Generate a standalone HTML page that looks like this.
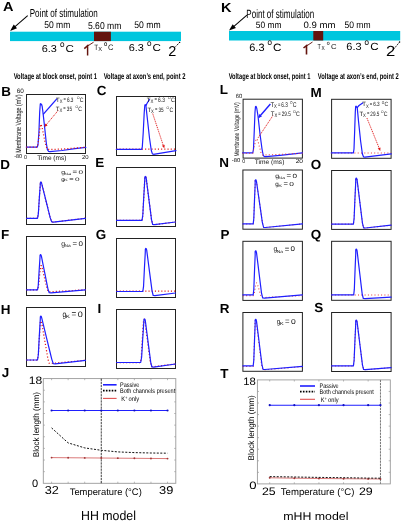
<!DOCTYPE html>
<html><head><meta charset="utf-8"><style>
html,body{margin:0;padding:0;background:#fff;}
svg{display:block;will-change:transform;}
text{font-family:"Liberation Sans", sans-serif;text-rendering:geometricPrecision;}
</style></head><body>
<svg width="401" height="522" viewBox="0 0 401 522">
<rect width="401" height="522" fill="#fff"/>
<text x="3.05" y="11.20" style="font-size:13.20px;font-weight:bold;" fill="#000" textLength="10.49" lengthAdjust="spacingAndGlyphs" >A</text>
<text x="29.74" y="16.80" style="font-size:11.59px;" fill="#000" textLength="68.07" lengthAdjust="spacingAndGlyphs" >Point of stimulation</text>
<line x1="27.70" y1="15.60" x2="13.87" y2="27.62" stroke="#000" stroke-width="1.05" />
<polygon points="10.10,30.90 13.74,24.42 17.02,28.19" fill="#000"/>
<text x="44.26" y="28.40" style="font-size:9.74px;" fill="#000" textLength="26.10" lengthAdjust="spacingAndGlyphs" >50 mm</text>
<text x="87.96" y="28.80" style="font-size:9.89px;" fill="#000" textLength="33.40" lengthAdjust="spacingAndGlyphs" >5.60 mm</text>
<text x="134.26" y="28.10" style="font-size:9.60px;" fill="#000" textLength="26.31" lengthAdjust="spacingAndGlyphs" >50 mm</text>
<rect x="10.00" y="31.70" width="171.00" height="9.40" fill="#00c6de" stroke="none" stroke-width="1"/>
<rect x="94.00" y="31.70" width="16.90" height="9.40" fill="#64140e" stroke="none" stroke-width="1"/>
<text x="41.75" y="51.50" style="font-size:10.03px;" fill="#000" textLength="15.22" lengthAdjust="spacingAndGlyphs" >6.3</text>
<text x="59.96" y="46.60" style="font-size:6.73px;font-weight:bold;" fill="#222" textLength="4.48" lengthAdjust="spacingAndGlyphs" >O</text>
<text x="65.62" y="51.50" style="font-size:10.03px;" fill="#000" textLength="8.42" lengthAdjust="spacingAndGlyphs" >C</text>
<text x="128.75" y="51.30" style="font-size:10.03px;" fill="#000" textLength="15.22" lengthAdjust="spacingAndGlyphs" >6.3</text>
<text x="146.96" y="46.40" style="font-size:6.73px;font-weight:bold;" fill="#222" textLength="4.48" lengthAdjust="spacingAndGlyphs" >O</text>
<text x="152.62" y="51.30" style="font-size:10.03px;" fill="#000" textLength="8.42" lengthAdjust="spacingAndGlyphs" >C</text>
<path d="M84.30,48.60 L87.60,45.60 L87.60,55.40" fill="none" stroke="#64140e" stroke-width="1.45" stroke-linejoin="miter"/>
<line x1="87.80" y1="45.90" x2="93.60" y2="42.20" stroke="#64140e" stroke-width="0.95" />
<text x="94.26" y="49.60" style="font-size:7.70px;" fill="#111" textLength="3.89" lengthAdjust="spacingAndGlyphs" >T</text>
<text x="98.17" y="51.30" style="font-size:5.96px;" fill="#111" textLength="3.85" lengthAdjust="spacingAndGlyphs" >X</text>
<text x="103.93" y="46.20" style="font-size:5.30px;font-weight:bold;" fill="#111" textLength="3.25" lengthAdjust="spacingAndGlyphs" >O</text>
<text x="108.12" y="49.80" style="font-size:7.88px;" fill="#111" textLength="5.46" lengthAdjust="spacingAndGlyphs" >C</text>
<text x="168.38" y="55.60" style="font-size:14.33px;" fill="#000" textLength="8.05" lengthAdjust="spacingAndGlyphs" >2</text>
<line x1="175.60" y1="46.60" x2="179.60" y2="42.40" stroke="#000" stroke-width="0.9" stroke-dasharray="1.4 0.8"/>
<circle cx="179.60" cy="42.40" r="0.7" fill="#000"/>
<text x="221.04" y="12.00" style="font-size:13.20px;font-weight:bold;" fill="#000" textLength="10.49" lengthAdjust="spacingAndGlyphs" >K</text>
<text x="246.34" y="17.90" style="font-size:12.00px;" fill="#000" textLength="67.77" lengthAdjust="spacingAndGlyphs" >Point of stimulation</text>
<line x1="246.90" y1="15.20" x2="232.79" y2="27.34" stroke="#000" stroke-width="1.05" />
<polygon points="229.00,30.60 232.68,24.14 235.94,27.93" fill="#000"/>
<text x="255.86" y="28.10" style="font-size:9.17px;" fill="#000" textLength="25.79" lengthAdjust="spacingAndGlyphs" >50 mm</text>
<text x="303.43" y="28.30" style="font-size:9.17px;" fill="#000" textLength="32.00" lengthAdjust="spacingAndGlyphs" >0.9 mm</text>
<text x="344.46" y="28.30" style="font-size:9.46px;" fill="#000" textLength="26.10" lengthAdjust="spacingAndGlyphs" >50 mm</text>
<rect x="229.00" y="31.00" width="171.20" height="9.50" fill="#00c6de" stroke="none" stroke-width="1"/>
<rect x="313.30" y="31.00" width="9.90" height="9.50" fill="#64140e" stroke="none" stroke-width="1"/>
<text x="249.25" y="50.50" style="font-size:10.60px;" fill="#000" textLength="15.22" lengthAdjust="spacingAndGlyphs" >6.3</text>
<text x="267.46" y="45.20" style="font-size:6.73px;font-weight:bold;" fill="#222" textLength="4.48" lengthAdjust="spacingAndGlyphs" >O</text>
<text x="273.12" y="50.50" style="font-size:10.60px;" fill="#000" textLength="8.42" lengthAdjust="spacingAndGlyphs" >C</text>
<text x="346.35" y="50.40" style="font-size:10.32px;" fill="#000" textLength="15.22" lengthAdjust="spacingAndGlyphs" >6.3</text>
<text x="364.56" y="45.30" style="font-size:6.73px;font-weight:bold;" fill="#222" textLength="4.48" lengthAdjust="spacingAndGlyphs" >O</text>
<text x="370.22" y="50.40" style="font-size:10.32px;" fill="#000" textLength="8.42" lengthAdjust="spacingAndGlyphs" >C</text>
<path d="M303.50,48.00 L306.50,45.60 L306.50,54.60" fill="none" stroke="#64140e" stroke-width="1.6" stroke-linejoin="miter"/>
<line x1="306.70" y1="45.90" x2="312.50" y2="42.00" stroke="#64140e" stroke-width="0.95" />
<text x="317.38" y="48.60" style="font-size:7.27px;" fill="#111" textLength="3.35" lengthAdjust="spacingAndGlyphs" >T</text>
<text x="321.39" y="50.30" style="font-size:5.96px;" fill="#111" textLength="3.21" lengthAdjust="spacingAndGlyphs" >X</text>
<text x="326.85" y="45.40" style="font-size:4.73px;font-weight:bold;" fill="#111" textLength="2.91" lengthAdjust="spacingAndGlyphs" >O</text>
<text x="331.11" y="49.00" style="font-size:7.16px;" fill="#111" textLength="5.57" lengthAdjust="spacingAndGlyphs" >C</text>
<text x="386.07" y="55.60" style="font-size:14.61px;" fill="#000" textLength="9.27" lengthAdjust="spacingAndGlyphs" >2</text>
<line x1="394.20" y1="48.60" x2="399.60" y2="42.00" stroke="#000" stroke-width="0.9" stroke-dasharray="1.4 0.8"/>
<circle cx="399.60" cy="42.00" r="0.7" fill="#000"/>
<text x="13.67" y="79.00" style="font-size:8.41px;font-weight:bold;" fill="#000" textLength="83.29" lengthAdjust="spacingAndGlyphs" >Voltage at block onset, point 1</text>
<text x="103.66" y="79.00" style="font-size:8.41px;font-weight:bold;" fill="#000" textLength="81.86" lengthAdjust="spacingAndGlyphs" >Voltage at axon’s end, point 2</text>
<text x="228.67" y="79.00" style="font-size:8.41px;font-weight:bold;" fill="#000" textLength="81.79" lengthAdjust="spacingAndGlyphs" >Voltage at block onset, point 1</text>
<text x="317.87" y="79.00" style="font-size:8.41px;font-weight:bold;" fill="#000" textLength="80.86" lengthAdjust="spacingAndGlyphs" >Voltage at axon’s end, point 2</text>
<text x="1.31" y="95.50" style="font-size:13.20px;font-weight:bold;" fill="#000" textLength="9.72" lengthAdjust="spacingAndGlyphs" >B</text>
<text x="96.65" y="95.40" style="font-size:13.20px;font-weight:bold;" fill="#000" textLength="9.72" lengthAdjust="spacingAndGlyphs" >C</text>
<text x="0.21" y="169.00" style="font-size:13.20px;font-weight:bold;" fill="#000" textLength="9.72" lengthAdjust="spacingAndGlyphs" >D</text>
<text x="95.31" y="167.00" style="font-size:13.20px;font-weight:bold;" fill="#000" textLength="8.98" lengthAdjust="spacingAndGlyphs" >E</text>
<text x="1.01" y="239.20" style="font-size:13.20px;font-weight:bold;" fill="#000" textLength="8.22" lengthAdjust="spacingAndGlyphs" >F</text>
<text x="95.65" y="239.40" style="font-size:13.20px;font-weight:bold;" fill="#000" textLength="10.47" lengthAdjust="spacingAndGlyphs" >G</text>
<text x="0.71" y="313.80" style="font-size:13.20px;font-weight:bold;" fill="#000" textLength="9.72" lengthAdjust="spacingAndGlyphs" >H</text>
<text x="97.41" y="313.20" style="font-size:13.20px;font-weight:bold;" fill="#000" textLength="3.74" lengthAdjust="spacingAndGlyphs" >I</text>
<text x="1.80" y="377.20" style="font-size:13.20px;font-weight:bold;" fill="#000" textLength="7.49" lengthAdjust="spacingAndGlyphs" >J</text>
<text x="219.81" y="94.40" style="font-size:13.20px;font-weight:bold;" fill="#000" textLength="8.22" lengthAdjust="spacingAndGlyphs" >L</text>
<text x="310.51" y="97.40" style="font-size:13.20px;font-weight:bold;" fill="#000" textLength="11.22" lengthAdjust="spacingAndGlyphs" >M</text>
<text x="219.31" y="167.20" style="font-size:13.20px;font-weight:bold;" fill="#000" textLength="9.72" lengthAdjust="spacingAndGlyphs" >N</text>
<text x="310.65" y="169.20" style="font-size:13.20px;font-weight:bold;" fill="#000" textLength="10.47" lengthAdjust="spacingAndGlyphs" >O</text>
<text x="220.51" y="238.60" style="font-size:13.20px;font-weight:bold;" fill="#000" textLength="8.98" lengthAdjust="spacingAndGlyphs" >P</text>
<text x="310.85" y="239.40" style="font-size:13.20px;font-weight:bold;" fill="#000" textLength="10.47" lengthAdjust="spacingAndGlyphs" >Q</text>
<text x="219.81" y="313.10" style="font-size:13.20px;font-weight:bold;" fill="#000" textLength="9.72" lengthAdjust="spacingAndGlyphs" >R</text>
<text x="314.32" y="312.40" style="font-size:13.20px;font-weight:bold;" fill="#000" textLength="8.98" lengthAdjust="spacingAndGlyphs" >S</text>
<text x="220.35" y="377.80" style="font-size:13.20px;font-weight:bold;" fill="#000" textLength="8.22" lengthAdjust="spacingAndGlyphs" >T</text>
<rect x="26.50" y="94.50" width="59.00" height="59.00" fill="#fff" stroke="#222" stroke-width="1.0"/>
<rect x="116.50" y="96.50" width="59.00" height="59.00" fill="#fff" stroke="#222" stroke-width="1.0"/>
<rect x="26.50" y="165.50" width="59.00" height="59.00" fill="#fff" stroke="#222" stroke-width="1.0"/>
<rect x="116.50" y="167.50" width="59.00" height="59.00" fill="#fff" stroke="#222" stroke-width="1.0"/>
<rect x="26.50" y="236.50" width="59.00" height="59.00" fill="#fff" stroke="#222" stroke-width="1.0"/>
<rect x="116.50" y="238.50" width="59.00" height="59.00" fill="#fff" stroke="#222" stroke-width="1.0"/>
<rect x="26.50" y="307.50" width="59.00" height="59.00" fill="#fff" stroke="#222" stroke-width="1.0"/>
<rect x="116.50" y="309.50" width="59.00" height="59.00" fill="#fff" stroke="#222" stroke-width="1.0"/>
<rect x="243.10" y="99.20" width="59.30" height="58.90" fill="#fff" stroke="#222" stroke-width="1.0"/>
<rect x="331.60" y="99.30" width="59.50" height="59.00" fill="#fff" stroke="#222" stroke-width="1.0"/>
<rect x="242.90" y="170.00" width="59.50" height="59.20" fill="#fff" stroke="#222" stroke-width="1.0"/>
<rect x="331.60" y="170.50" width="59.50" height="58.90" fill="#fff" stroke="#222" stroke-width="1.0"/>
<rect x="242.90" y="241.30" width="59.50" height="59.10" fill="#fff" stroke="#222" stroke-width="1.0"/>
<rect x="331.60" y="241.30" width="59.50" height="59.00" fill="#fff" stroke="#222" stroke-width="1.0"/>
<rect x="242.90" y="312.50" width="59.50" height="58.80" fill="#fff" stroke="#222" stroke-width="1.0"/>
<rect x="331.60" y="312.50" width="59.50" height="59.00" fill="#fff" stroke="#222" stroke-width="1.0"/>
<polyline points="26.50,218.30 37.50,218.30 38.33,213.94 39.31,198.34 40.21,185.63 40.35,182.80 40.80,182.00 41.30,182.30 41.70,183.63 44.02,192.94 46.35,202.26 48.67,211.58 50.26,217.92 51.70,221.90 53.50,222.10 85.50,218.30" fill="none" stroke="#e01515" stroke-width="1.25" stroke-linejoin="round" stroke-linecap="butt" stroke-dasharray="1.1 2.1"/>
<polyline points="26.50,218.30 37.50,218.30 38.33,213.94 39.31,198.34 40.21,185.63 40.35,182.80 40.80,182.00 41.30,182.30 41.70,183.63 44.02,192.94 46.35,202.26 48.67,211.58 50.26,217.92 51.70,221.90 53.50,222.10 85.50,218.30" fill="none" stroke="#1f1fff" stroke-width="1.2" stroke-linejoin="round" stroke-linecap="round" />
<polyline points="116.50,220.30 142.00,220.30 142.82,215.03 143.81,196.16 144.71,180.79 144.85,177.20 145.30,176.40 145.80,176.70 146.20,178.18 147.65,189.51 149.10,200.84 150.55,212.17 151.54,219.87 152.70,224.50 154.50,224.70 175.50,222.00" fill="none" stroke="#e01515" stroke-width="1.25" stroke-linejoin="round" stroke-linecap="butt" stroke-dasharray="1.1 2.1"/>
<polyline points="116.50,220.30 142.00,220.30 142.82,215.03 143.81,196.16 144.71,180.79 144.85,177.20 145.30,176.40 145.80,176.70 146.20,178.18 147.65,189.51 149.10,200.84 150.55,212.17 151.54,219.87 152.70,224.50 154.50,224.70 175.50,222.00" fill="none" stroke="#1f1fff" stroke-width="1.2" stroke-linejoin="round" stroke-linecap="round" />
<polyline points="26.50,289.80 37.60,289.80 38.45,286.90 39.47,276.49 40.39,268.02 40.55,266.40 41.00,265.60 41.50,265.90 41.90,266.98 43.30,272.89 44.70,278.79 46.10,284.70 47.05,288.71 48.20,291.60 50.00,291.80 85.50,289.80" fill="none" stroke="#e01515" stroke-width="1.25" stroke-linejoin="round" stroke-linecap="butt" stroke-dasharray="1.1 2.1"/>
<polyline points="26.50,289.80 37.50,289.80 38.25,285.58 39.15,270.44 39.96,258.12 40.05,255.40 40.50,254.60 41.00,254.90 41.40,256.20 43.17,265.08 44.95,273.95 46.72,282.83 47.93,288.86 49.20,292.70 51.00,292.90 85.50,289.80" fill="none" stroke="#1f1fff" stroke-width="1.2" stroke-linejoin="round" stroke-linecap="round" />
<polyline points="116.50,291.00 175.50,291.00" fill="none" stroke="#e01515" stroke-width="1.25" stroke-linejoin="round" stroke-linecap="butt" stroke-dasharray="1.1 2.1"/>
<polyline points="116.50,291.50 142.80,291.50 143.55,286.33 144.45,267.80 145.26,252.71 145.35,249.20 145.80,248.40 146.30,248.70 146.70,250.16 148.15,261.25 149.60,272.33 151.05,283.42 152.04,290.95 153.20,295.50 155.00,295.70 175.50,293.00" fill="none" stroke="#1f1fff" stroke-width="1.2" stroke-linejoin="round" stroke-linecap="round" />
<polyline points="26.50,360.00 37.50,360.00 38.33,355.33 39.31,338.61 40.21,324.99 40.35,321.90 40.80,321.10 41.30,321.40 41.70,322.78 43.40,332.66 45.10,342.54 46.80,352.42 47.96,359.14 49.20,363.30 51.00,363.50 85.50,360.30" fill="none" stroke="#e01515" stroke-width="1.25" stroke-linejoin="round" stroke-linecap="butt" stroke-dasharray="1.1 2.1"/>
<polyline points="26.50,360.00 37.50,360.00 38.33,354.73 39.31,335.86 40.21,320.49 40.35,316.90 40.80,316.10 41.30,316.40 41.70,317.88 44.42,329.08 47.15,340.29 49.88,351.49 51.73,359.11 53.30,363.70 55.10,363.90 85.50,360.30" fill="none" stroke="#1f1fff" stroke-width="1.2" stroke-linejoin="round" stroke-linecap="round" />
<polyline points="116.50,362.50 140.40,362.50 141.30,357.33 142.38,338.80 143.35,323.71 143.55,320.20 144.00,319.40 144.50,319.70 144.90,321.16 146.38,332.25 147.85,343.33 149.33,354.42 150.33,361.95 151.50,366.50 153.30,366.70 175.50,364.00" fill="none" stroke="#e01515" stroke-width="1.25" stroke-linejoin="round" stroke-linecap="butt" stroke-dasharray="1.1 2.1"/>
<polyline points="116.50,362.50 140.70,362.50 141.62,357.27 142.73,338.52 143.73,323.26 143.95,319.70 144.40,318.90 144.90,319.20 145.30,320.67 146.78,332.00 148.25,343.34 149.72,354.67 150.73,362.37 151.90,367.00 153.70,367.20 175.50,364.00" fill="none" stroke="#1f1fff" stroke-width="1.2" stroke-linejoin="round" stroke-linecap="round" />
<polyline points="242.90,223.90 253.20,223.90 253.80,218.61 254.52,199.64 255.17,184.21 255.15,180.60 255.60,179.80 256.10,180.10 256.50,181.58 258.10,192.76 259.70,203.94 261.30,215.12 262.39,222.72 263.60,227.30 265.40,227.50 302.40,223.90" fill="none" stroke="#e83a3a" stroke-width="1.05" stroke-linejoin="round" stroke-linecap="butt" stroke-dasharray="1.0 2.3"/>
<polyline points="242.90,223.90 253.20,223.90 253.80,218.61 254.52,199.64 255.17,184.21 255.15,180.60 255.60,179.80 256.10,180.10 256.50,181.58 258.10,192.76 259.70,203.94 261.30,215.12 262.39,222.72 263.60,227.30 265.40,227.50 302.40,223.90" fill="none" stroke="#1f1fff" stroke-width="1.2" stroke-linejoin="round" stroke-linecap="round" />
<polyline points="331.60,224.10 353.40,224.10 354.10,218.58 354.94,198.80 355.70,182.70 355.75,178.90 356.20,178.10 356.70,178.40 357.10,179.92 358.55,191.64 360.00,203.36 361.45,215.08 362.44,223.05 363.60,227.80 365.40,228.00 391.10,225.20" fill="none" stroke="#e83a3a" stroke-width="1.05" stroke-linejoin="round" stroke-linecap="butt" stroke-dasharray="1.0 2.3"/>
<polyline points="331.60,224.10 353.40,224.10 354.10,218.58 354.94,198.80 355.70,182.70 355.75,178.90 356.20,178.10 356.70,178.40 357.10,179.92 358.55,191.64 360.00,203.36 361.45,215.08 362.44,223.05 363.60,227.80 365.40,228.00 391.10,225.20" fill="none" stroke="#1f1fff" stroke-width="1.2" stroke-linejoin="round" stroke-linecap="round" />
<polyline points="242.90,295.60 253.30,295.60 254.10,294.08 255.06,288.62 255.92,284.17 256.05,283.70 256.50,282.90 257.00,283.20 257.40,284.05 258.30,287.12 259.20,290.18 260.10,293.24 260.71,295.32 261.70,297.30 263.50,297.50 302.40,295.60" fill="none" stroke="#e83a3a" stroke-width="1.05" stroke-linejoin="round" stroke-linecap="butt" stroke-dasharray="1.0 2.3"/>
<polyline points="242.90,294.90 253.20,294.90 253.80,289.61 254.52,270.64 255.17,255.21 255.15,251.60 255.60,250.80 256.10,251.10 256.50,252.58 257.88,263.69 259.25,274.79 260.62,285.90 261.56,293.45 262.70,298.00 264.50,298.20 302.40,294.90" fill="none" stroke="#1f1fff" stroke-width="1.2" stroke-linejoin="round" stroke-linecap="round" />
<polyline points="331.60,294.90 391.10,294.90" fill="none" stroke="#e83a3a" stroke-width="1.05" stroke-linejoin="round" stroke-linecap="butt" stroke-dasharray="1.0 2.3"/>
<polyline points="331.60,294.90 353.70,294.90 354.32,289.40 355.07,269.71 355.75,253.68 355.75,249.90 356.20,249.10 356.70,249.40 357.10,250.92 358.47,262.56 359.85,274.21 361.22,285.85 362.16,293.77 363.30,298.50 365.10,298.70 391.10,297.10" fill="none" stroke="#1f1fff" stroke-width="1.2" stroke-linejoin="round" stroke-linecap="round" />
<polyline points="242.90,366.40 253.20,366.40 253.75,360.84 254.41,340.94 255.00,324.73 254.95,320.90 255.40,320.10 255.90,320.40 256.30,321.93 257.73,333.59 259.15,345.26 260.57,356.93 261.54,364.87 262.70,369.60 264.50,369.80 302.40,366.60" fill="none" stroke="#e83a3a" stroke-width="1.05" stroke-linejoin="round" stroke-linecap="butt" stroke-dasharray="1.0 2.3"/>
<polyline points="242.90,365.90 253.20,365.90 253.80,360.31 254.52,340.27 255.17,323.96 255.15,320.10 255.60,319.30 256.10,319.60 256.50,321.13 257.98,332.92 259.45,344.72 260.93,356.51 261.93,364.53 263.10,369.30 264.90,369.50 302.40,366.40" fill="none" stroke="#1f1fff" stroke-width="1.2" stroke-linejoin="round" stroke-linecap="round" />
<polyline points="331.60,365.90 353.40,365.90 354.10,360.40 354.94,340.71 355.70,324.68 355.75,320.90 356.20,320.10 356.70,320.40 357.10,321.92 358.55,333.56 360.00,345.21 361.45,356.85 362.44,364.77 363.60,369.50 365.40,369.70 391.10,367.60" fill="none" stroke="#e83a3a" stroke-width="1.05" stroke-linejoin="round" stroke-linecap="butt" stroke-dasharray="1.0 2.3"/>
<polyline points="331.60,365.90 353.40,365.90 354.10,360.40 354.94,340.71 355.70,324.68 355.75,320.90 356.20,320.10 356.70,320.40 357.10,321.92 358.55,333.56 360.00,345.21 361.45,356.85 362.44,364.77 363.60,369.50 365.40,369.70 391.10,367.60" fill="none" stroke="#1f1fff" stroke-width="1.2" stroke-linejoin="round" stroke-linecap="round" />
<polyline points="26.30,147.10 37.30,147.10 38.00,144.50 38.90,133.00 39.70,112.00 40.30,104.00 40.70,103.60 41.10,104.60 41.60,104.40 42.20,106.50 43.20,114.40 44.60,127.00 46.30,143.00 47.40,149.60 48.60,151.30 50.00,151.60 62.00,150.50 75.00,148.60 85.80,147.30" fill="none" stroke="#1f1fff" stroke-width="1.2" stroke-linejoin="round" stroke-linecap="round" />
<line x1="43.20" y1="114.40" x2="57.00" y2="98.60" stroke="#1f1fff" stroke-width="1.3" />
<polyline points="26.30,147.10 37.30,147.10 38.50,141.00 40.00,127.00 40.90,124.20 42.00,127.00 44.00,137.00 46.10,146.60 48.00,149.40 60.00,149.20 75.00,148.00 85.80,147.20" fill="none" stroke="#e01515" stroke-width="1.25" stroke-linejoin="round" stroke-linecap="butt" stroke-dasharray="1.1 2.1"/>
<line x1="58.20" y1="110.40" x2="45.80" y2="125.30" stroke="#e01515" stroke-width="0.9" stroke-dasharray="1.2 0.8"/>
<polygon points="44.40,127.00 45.29,123.58 47.60,125.50" fill="#e01515"/>
<polyline points="116.30,149.10 176.00,149.10" fill="none" stroke="#e01515" stroke-width="1.25" stroke-linejoin="round" stroke-linecap="butt" stroke-dasharray="1.1 2.1"/>
<polyline points="116.30,149.30 141.60,149.30 142.30,147.00 143.20,133.00 144.20,113.00 144.80,105.50 145.20,104.60 145.80,105.60 146.40,104.80 147.20,103.00 149.40,99.60" fill="none" stroke="#1f1fff" stroke-width="1.2" stroke-linejoin="round" stroke-linecap="round" />
<polyline points="145.90,105.60 147.50,120.00 149.50,138.00 151.30,150.50 152.40,153.90 153.50,154.30 176.00,150.60" fill="none" stroke="#1f1fff" stroke-width="1.2" stroke-linejoin="round" stroke-linecap="round" />
<line x1="152.70" y1="113.60" x2="163.60" y2="146.40" stroke="#e01515" stroke-width="0.9" stroke-dasharray="1.2 0.8"/>
<polygon points="164.30,148.20 161.86,145.64 164.71,144.69" fill="#e01515"/>
<polyline points="242.50,152.90 252.80,152.90 253.50,149.00 254.30,130.00 255.00,112.00 255.50,106.50 256.10,106.40 256.80,108.50 258.00,116.00 260.00,134.00 262.00,149.00 263.30,155.50 264.50,156.60 266.00,156.70 280.00,155.30 302.50,152.90" fill="none" stroke="#1f1fff" stroke-width="1.2" stroke-linejoin="round" stroke-linecap="round" />
<line x1="258.90" y1="117.20" x2="270.40" y2="104.00" stroke="#1f1fff" stroke-width="1.4" />
<polygon points="258.30,117.90 259.24,114.08 261.96,116.44" fill="#1f1fff"/>
<polyline points="242.50,153.30 252.80,153.30 254.00,148.00 255.50,141.00 256.50,138.60 257.80,140.50 259.50,147.00 261.20,153.50 262.50,155.00 275.00,154.60 302.50,153.30" fill="none" stroke="#e83a3a" stroke-width="1.05" stroke-linejoin="round" stroke-linecap="butt" stroke-dasharray="1.0 2.3"/>
<line x1="258.10" y1="137.80" x2="272.90" y2="115.60" stroke="#e01515" stroke-width="0.9" stroke-dasharray="1.2 0.8"/>
<polyline points="331.30,152.90 391.30,152.90" fill="none" stroke="#e83a3a" stroke-width="1.05" stroke-linejoin="round" stroke-linecap="butt" stroke-dasharray="1.0 2.3"/>
<polyline points="331.30,152.90 353.40,152.90 354.00,149.00 354.70,130.00 355.30,112.00 355.70,106.40 356.20,106.20 356.80,107.30 357.40,107.40 359.00,105.50 362.70,102.90" fill="none" stroke="#1f1fff" stroke-width="1.2" stroke-linejoin="round" stroke-linecap="round" />
<polyline points="357.20,107.40 358.60,122.00 360.60,141.00 362.40,154.00 363.60,157.00 365.00,157.20 391.30,153.90" fill="none" stroke="#1f1fff" stroke-width="1.2" stroke-linejoin="round" stroke-linecap="round" />
<line x1="366.90" y1="118.00" x2="379.60" y2="149.20" stroke="#e01515" stroke-width="0.9" stroke-dasharray="1.2 0.8"/>
<polygon points="380.30,151.00 377.71,148.60 380.49,147.47" fill="#e01515"/>
<text x="56.07" y="101.50" style="font-size:6.30px;" fill="#151515" textLength="3.67" lengthAdjust="spacingAndGlyphs" >T</text>
<text x="59.71" y="102.60" style="font-size:5.04px;" fill="#151515" textLength="2.78" lengthAdjust="spacingAndGlyphs" >X</text>
<text x="63.50" y="101.10" style="font-size:6.30px;" fill="#151515" textLength="2.40" lengthAdjust="spacingAndGlyphs" >=</text>
<text x="66.96" y="101.50" style="font-size:6.30px;" fill="#151515" textLength="6.54" lengthAdjust="spacingAndGlyphs" >6.3</text>
<text x="76.95" y="98.80" style="font-size:3.91px;" fill="#151515" textLength="2.51" lengthAdjust="spacingAndGlyphs" >O</text>
<text x="79.74" y="101.50" style="font-size:6.30px;" fill="#151515" textLength="3.75" lengthAdjust="spacingAndGlyphs" >C</text>
<text x="55.87" y="110.50" style="font-size:6.30px;" fill="#151515" textLength="3.67" lengthAdjust="spacingAndGlyphs" >T</text>
<text x="59.51" y="111.60" style="font-size:5.04px;" fill="#151515" textLength="2.78" lengthAdjust="spacingAndGlyphs" >X</text>
<text x="63.30" y="110.10" style="font-size:6.30px;" fill="#151515" textLength="2.40" lengthAdjust="spacingAndGlyphs" >=</text>
<text x="66.82" y="110.50" style="font-size:6.30px;" fill="#151515" textLength="5.17" lengthAdjust="spacingAndGlyphs" >35</text>
<text x="75.45" y="107.80" style="font-size:3.91px;" fill="#151515" textLength="2.51" lengthAdjust="spacingAndGlyphs" >O</text>
<text x="78.24" y="110.50" style="font-size:6.30px;" fill="#151515" textLength="3.75" lengthAdjust="spacingAndGlyphs" >C</text>
<text x="146.72" y="101.80" style="font-size:6.30px;" fill="#151515" textLength="3.83" lengthAdjust="spacingAndGlyphs" >T</text>
<text x="150.51" y="102.90" style="font-size:5.04px;" fill="#151515" textLength="2.90" lengthAdjust="spacingAndGlyphs" >X</text>
<text x="154.47" y="101.40" style="font-size:6.30px;" fill="#151515" textLength="2.50" lengthAdjust="spacingAndGlyphs" >=</text>
<text x="158.08" y="101.80" style="font-size:6.30px;" fill="#151515" textLength="6.82" lengthAdjust="spacingAndGlyphs" >6.3</text>
<text x="167.97" y="99.10" style="font-size:3.91px;" fill="#151515" textLength="2.61" lengthAdjust="spacingAndGlyphs" >O</text>
<text x="170.88" y="101.80" style="font-size:6.30px;" fill="#151515" textLength="3.91" lengthAdjust="spacingAndGlyphs" >C</text>
<text x="147.46" y="111.60" style="font-size:6.30px;" fill="#151515" textLength="3.68" lengthAdjust="spacingAndGlyphs" >T</text>
<text x="151.12" y="112.70" style="font-size:5.04px;" fill="#151515" textLength="2.79" lengthAdjust="spacingAndGlyphs" >X</text>
<text x="154.93" y="111.20" style="font-size:6.30px;" fill="#151515" textLength="2.41" lengthAdjust="spacingAndGlyphs" >=</text>
<text x="158.46" y="111.60" style="font-size:6.30px;" fill="#151515" textLength="5.19" lengthAdjust="spacingAndGlyphs" >35</text>
<text x="166.62" y="108.90" style="font-size:3.91px;" fill="#151515" textLength="2.52" lengthAdjust="spacingAndGlyphs" >O</text>
<text x="169.42" y="111.60" style="font-size:6.30px;" fill="#151515" textLength="3.77" lengthAdjust="spacingAndGlyphs" >C</text>
<text x="270.47" y="107.00" style="font-size:6.80px;" fill="#151515" textLength="3.67" lengthAdjust="spacingAndGlyphs" >T</text>
<text x="274.11" y="108.10" style="font-size:5.44px;" fill="#151515" textLength="2.78" lengthAdjust="spacingAndGlyphs" >X</text>
<text x="277.90" y="106.60" style="font-size:6.80px;" fill="#151515" textLength="2.40" lengthAdjust="spacingAndGlyphs" >=</text>
<text x="281.36" y="107.00" style="font-size:6.80px;" fill="#151515" textLength="6.54" lengthAdjust="spacingAndGlyphs" >6.3</text>
<text x="289.95" y="104.30" style="font-size:4.22px;" fill="#151515" textLength="2.51" lengthAdjust="spacingAndGlyphs" >O</text>
<text x="292.74" y="107.00" style="font-size:6.80px;" fill="#151515" textLength="3.75" lengthAdjust="spacingAndGlyphs" >C</text>
<text x="270.87" y="116.00" style="font-size:6.50px;" fill="#151515" textLength="3.67" lengthAdjust="spacingAndGlyphs" >T</text>
<text x="274.51" y="117.10" style="font-size:5.20px;" fill="#151515" textLength="2.78" lengthAdjust="spacingAndGlyphs" >X</text>
<text x="278.30" y="115.60" style="font-size:6.50px;" fill="#151515" textLength="2.40" lengthAdjust="spacingAndGlyphs" >=</text>
<text x="281.77" y="116.00" style="font-size:6.50px;" fill="#151515" textLength="9.02" lengthAdjust="spacingAndGlyphs" >29.5</text>
<text x="293.15" y="113.30" style="font-size:4.03px;" fill="#151515" textLength="2.51" lengthAdjust="spacingAndGlyphs" >O</text>
<text x="295.94" y="116.00" style="font-size:6.50px;" fill="#151515" textLength="3.75" lengthAdjust="spacingAndGlyphs" >C</text>
<text x="362.27" y="106.40" style="font-size:6.20px;" fill="#151515" textLength="3.67" lengthAdjust="spacingAndGlyphs" >T</text>
<text x="365.91" y="107.50" style="font-size:4.96px;" fill="#151515" textLength="2.78" lengthAdjust="spacingAndGlyphs" >X</text>
<text x="369.70" y="106.00" style="font-size:6.20px;" fill="#151515" textLength="2.40" lengthAdjust="spacingAndGlyphs" >=</text>
<text x="373.16" y="106.40" style="font-size:6.20px;" fill="#151515" textLength="6.54" lengthAdjust="spacingAndGlyphs" >6.3</text>
<text x="381.65" y="103.70" style="font-size:3.84px;" fill="#151515" textLength="2.51" lengthAdjust="spacingAndGlyphs" >O</text>
<text x="384.44" y="106.40" style="font-size:6.20px;" fill="#151515" textLength="3.75" lengthAdjust="spacingAndGlyphs" >C</text>
<text x="359.47" y="115.60" style="font-size:6.30px;" fill="#151515" textLength="3.67" lengthAdjust="spacingAndGlyphs" >T</text>
<text x="363.11" y="116.70" style="font-size:5.04px;" fill="#151515" textLength="2.78" lengthAdjust="spacingAndGlyphs" >X</text>
<text x="366.90" y="115.20" style="font-size:6.30px;" fill="#151515" textLength="2.40" lengthAdjust="spacingAndGlyphs" >=</text>
<text x="370.37" y="115.60" style="font-size:6.30px;" fill="#151515" textLength="9.02" lengthAdjust="spacingAndGlyphs" >29.5</text>
<text x="381.05" y="112.90" style="font-size:3.91px;" fill="#151515" textLength="2.51" lengthAdjust="spacingAndGlyphs" >O</text>
<text x="383.84" y="115.60" style="font-size:6.30px;" fill="#151515" textLength="3.75" lengthAdjust="spacingAndGlyphs" >C</text>
<text x="61.21" y="173.55" style="font-size:5.71px;" fill="#111" textLength="3.84" lengthAdjust="spacingAndGlyphs" >g</text>
<text x="64.64" y="174.52" style="font-size:3.37px;" fill="#111" textLength="6.23" lengthAdjust="spacingAndGlyphs" >Na</text>
<text x="72.62" y="173.60" style="font-size:6.80px;" fill="#111" textLength="4.60" lengthAdjust="spacingAndGlyphs" >=</text>
<text x="78.58" y="173.55" style="font-size:5.44px;" fill="#111" textLength="4.53" lengthAdjust="spacingAndGlyphs" >0</text>
<text x="61.24" y="180.55" style="font-size:5.26px;" fill="#111" textLength="3.41" lengthAdjust="spacingAndGlyphs" >g</text>
<text x="64.14" y="181.45" style="font-size:3.11px;" fill="#111" textLength="3.83" lengthAdjust="spacingAndGlyphs" >K</text>
<text x="69.33" y="180.60" style="font-size:6.27px;" fill="#111" textLength="4.38" lengthAdjust="spacingAndGlyphs" >=</text>
<text x="75.03" y="180.55" style="font-size:5.01px;" fill="#111" textLength="4.59" lengthAdjust="spacingAndGlyphs" >0</text>
<text x="61.21" y="245.75" style="font-size:7.04px;" fill="#111" textLength="3.81" lengthAdjust="spacingAndGlyphs" >g</text>
<text x="64.61" y="246.91" style="font-size:4.16px;" fill="#111" textLength="6.17" lengthAdjust="spacingAndGlyphs" >Na</text>
<text x="72.52" y="245.80" style="font-size:8.39px;" fill="#111" textLength="4.55" lengthAdjust="spacingAndGlyphs" >=</text>
<text x="78.42" y="245.75" style="font-size:6.71px;" fill="#111" textLength="4.48" lengthAdjust="spacingAndGlyphs" >0</text>
<text x="62.62" y="316.55" style="font-size:8.23px;" fill="#111" textLength="3.74" lengthAdjust="spacingAndGlyphs" >g</text>
<text x="65.80" y="317.88" style="font-size:4.86px;" fill="#111" textLength="4.19" lengthAdjust="spacingAndGlyphs" >K</text>
<text x="71.48" y="316.60" style="font-size:9.80px;" fill="#111" textLength="4.79" lengthAdjust="spacingAndGlyphs" >=</text>
<text x="77.72" y="316.55" style="font-size:7.84px;" fill="#111" textLength="5.03" lengthAdjust="spacingAndGlyphs" >0</text>
<text x="275.21" y="178.25" style="font-size:6.30px;" fill="#111" textLength="3.84" lengthAdjust="spacingAndGlyphs" >g</text>
<text x="278.64" y="179.30" style="font-size:3.72px;" fill="#111" textLength="6.23" lengthAdjust="spacingAndGlyphs" >Na</text>
<text x="286.62" y="178.30" style="font-size:7.50px;" fill="#111" textLength="4.60" lengthAdjust="spacingAndGlyphs" >=</text>
<text x="292.58" y="178.25" style="font-size:6.00px;" fill="#111" textLength="4.53" lengthAdjust="spacingAndGlyphs" >0</text>
<text x="275.24" y="185.55" style="font-size:6.15px;" fill="#111" textLength="3.47" lengthAdjust="spacingAndGlyphs" >g</text>
<text x="278.19" y="186.58" style="font-size:3.63px;" fill="#111" textLength="3.89" lengthAdjust="spacingAndGlyphs" >K</text>
<text x="283.46" y="185.60" style="font-size:7.33px;" fill="#111" textLength="4.45" lengthAdjust="spacingAndGlyphs" >=</text>
<text x="289.25" y="185.55" style="font-size:5.86px;" fill="#111" textLength="4.67" lengthAdjust="spacingAndGlyphs" >0</text>
<text x="273.51" y="251.45" style="font-size:7.19px;" fill="#111" textLength="3.79" lengthAdjust="spacingAndGlyphs" >g</text>
<text x="276.89" y="252.63" style="font-size:4.25px;" fill="#111" textLength="6.14" lengthAdjust="spacingAndGlyphs" >Na</text>
<text x="284.77" y="251.50" style="font-size:8.56px;" fill="#111" textLength="4.53" lengthAdjust="spacingAndGlyphs" >=</text>
<text x="290.64" y="251.45" style="font-size:6.85px;" fill="#111" textLength="4.46" lengthAdjust="spacingAndGlyphs" >0</text>
<text x="276.63" y="323.65" style="font-size:7.34px;" fill="#111" textLength="3.54" lengthAdjust="spacingAndGlyphs" >g</text>
<text x="279.65" y="324.85" style="font-size:4.33px;" fill="#111" textLength="3.98" lengthAdjust="spacingAndGlyphs" >K</text>
<text x="285.04" y="323.70" style="font-size:8.74px;" fill="#111" textLength="4.55" lengthAdjust="spacingAndGlyphs" >=</text>
<text x="290.96" y="323.65" style="font-size:6.99px;" fill="#111" textLength="4.77" lengthAdjust="spacingAndGlyphs" >0</text>
<g transform="translate(20.9,152.3) rotate(-90)">
<text x="-0.44" y="0.00" style="font-size:7.72px;" fill="#111" textLength="58.38" lengthAdjust="spacingAndGlyphs" >Membrane Voltage (mV)</text>
</g>
<text x="16.78" y="92.70" style="font-size:6.30px;" fill="#111" textLength="7.17" lengthAdjust="spacingAndGlyphs" >60</text>
<text x="14.16" y="157.50" style="font-size:5.59px;" fill="#111" textLength="7.95" lengthAdjust="spacingAndGlyphs" >-80</text>
<text x="24.09" y="158.80" style="font-size:5.73px;" fill="#111" textLength="3.02" lengthAdjust="spacingAndGlyphs" >0</text>
<text x="37.26" y="160.00" style="font-size:6.62px;" fill="#111" textLength="29.15" lengthAdjust="spacingAndGlyphs" >Time (ms)</text>
<text x="82.00" y="158.60" style="font-size:5.87px;" fill="#111" textLength="6.63" lengthAdjust="spacingAndGlyphs" >20</text>
<g transform="translate(238.7,156.2) rotate(-90)">
<text x="-0.41" y="0.00" style="font-size:6.90px;" fill="#111" textLength="54.32" lengthAdjust="spacingAndGlyphs" >Membrane Voltage (mV)</text>
</g>
<text x="235.71" y="98.00" style="font-size:6.02px;" fill="#111" textLength="6.52" lengthAdjust="spacingAndGlyphs" >60</text>
<text x="231.74" y="161.80" style="font-size:5.59px;" fill="#111" textLength="8.48" lengthAdjust="spacingAndGlyphs" >-80</text>
<text x="242.20" y="162.60" style="font-size:5.73px;" fill="#111" textLength="2.90" lengthAdjust="spacingAndGlyphs" >0</text>
<text x="254.75" y="164.00" style="font-size:6.48px;" fill="#111" textLength="29.66" lengthAdjust="spacingAndGlyphs" >Time (ms)</text>
<text x="295.67" y="162.60" style="font-size:5.87px;" fill="#111" textLength="7.39" lengthAdjust="spacingAndGlyphs" >20</text>
<rect x="43.30" y="378.60" width="132.50" height="104.70" fill="none" stroke="#9a9a9a" stroke-width="0.9"/>
<line x1="51.58" y1="483.30" x2="51.58" y2="481.70" stroke="#9a9a9a" stroke-width="0.7" />
<line x1="51.58" y1="378.60" x2="51.58" y2="380.20" stroke="#9a9a9a" stroke-width="0.7" />
<line x1="68.14" y1="483.30" x2="68.14" y2="481.70" stroke="#9a9a9a" stroke-width="0.7" />
<line x1="68.14" y1="378.60" x2="68.14" y2="380.20" stroke="#9a9a9a" stroke-width="0.7" />
<line x1="84.71" y1="483.30" x2="84.71" y2="481.70" stroke="#9a9a9a" stroke-width="0.7" />
<line x1="84.71" y1="378.60" x2="84.71" y2="380.20" stroke="#9a9a9a" stroke-width="0.7" />
<line x1="101.27" y1="483.30" x2="101.27" y2="481.70" stroke="#9a9a9a" stroke-width="0.7" />
<line x1="101.27" y1="378.60" x2="101.27" y2="380.20" stroke="#9a9a9a" stroke-width="0.7" />
<line x1="117.83" y1="483.30" x2="117.83" y2="481.70" stroke="#9a9a9a" stroke-width="0.7" />
<line x1="117.83" y1="378.60" x2="117.83" y2="380.20" stroke="#9a9a9a" stroke-width="0.7" />
<line x1="134.39" y1="483.30" x2="134.39" y2="481.70" stroke="#9a9a9a" stroke-width="0.7" />
<line x1="134.39" y1="378.60" x2="134.39" y2="380.20" stroke="#9a9a9a" stroke-width="0.7" />
<line x1="150.96" y1="483.30" x2="150.96" y2="481.70" stroke="#9a9a9a" stroke-width="0.7" />
<line x1="150.96" y1="378.60" x2="150.96" y2="380.20" stroke="#9a9a9a" stroke-width="0.7" />
<line x1="167.52" y1="483.30" x2="167.52" y2="481.70" stroke="#9a9a9a" stroke-width="0.7" />
<line x1="167.52" y1="378.60" x2="167.52" y2="380.20" stroke="#9a9a9a" stroke-width="0.7" />
<line x1="43.30" y1="471.67" x2="44.90" y2="471.67" stroke="#9a9a9a" stroke-width="0.7" />
<line x1="175.80" y1="471.67" x2="174.20" y2="471.67" stroke="#9a9a9a" stroke-width="0.7" />
<line x1="43.30" y1="460.03" x2="44.90" y2="460.03" stroke="#9a9a9a" stroke-width="0.7" />
<line x1="175.80" y1="460.03" x2="174.20" y2="460.03" stroke="#9a9a9a" stroke-width="0.7" />
<line x1="43.30" y1="448.40" x2="44.90" y2="448.40" stroke="#9a9a9a" stroke-width="0.7" />
<line x1="175.80" y1="448.40" x2="174.20" y2="448.40" stroke="#9a9a9a" stroke-width="0.7" />
<line x1="43.30" y1="436.77" x2="44.90" y2="436.77" stroke="#9a9a9a" stroke-width="0.7" />
<line x1="175.80" y1="436.77" x2="174.20" y2="436.77" stroke="#9a9a9a" stroke-width="0.7" />
<line x1="43.30" y1="425.13" x2="44.90" y2="425.13" stroke="#9a9a9a" stroke-width="0.7" />
<line x1="175.80" y1="425.13" x2="174.20" y2="425.13" stroke="#9a9a9a" stroke-width="0.7" />
<line x1="43.30" y1="413.50" x2="44.90" y2="413.50" stroke="#9a9a9a" stroke-width="0.7" />
<line x1="175.80" y1="413.50" x2="174.20" y2="413.50" stroke="#9a9a9a" stroke-width="0.7" />
<line x1="43.30" y1="401.87" x2="44.90" y2="401.87" stroke="#9a9a9a" stroke-width="0.7" />
<line x1="175.80" y1="401.87" x2="174.20" y2="401.87" stroke="#9a9a9a" stroke-width="0.7" />
<line x1="43.30" y1="390.23" x2="44.90" y2="390.23" stroke="#9a9a9a" stroke-width="0.7" />
<line x1="175.80" y1="390.23" x2="174.20" y2="390.23" stroke="#9a9a9a" stroke-width="0.7" />
<line x1="101.27" y1="378.60" x2="101.27" y2="483.30" stroke="#444" stroke-width="1.0" stroke-dasharray="2.3 0.8"/>
<polyline points="51.58,410.50 68.14,410.50 84.71,410.50 101.27,410.50 117.83,410.50 134.39,410.50 150.96,410.50 167.52,410.50" fill="none" stroke="#1f1fff" stroke-width="1.1" stroke-linejoin="round" stroke-linecap="round" />
<circle cx="51.58" cy="410.50" r="1.1" fill="#1010c0"/>
<circle cx="68.14" cy="410.50" r="1.1" fill="#1010c0"/>
<circle cx="84.71" cy="410.50" r="1.1" fill="#1010c0"/>
<circle cx="101.27" cy="410.50" r="1.1" fill="#1010c0"/>
<circle cx="117.83" cy="410.50" r="1.1" fill="#1010c0"/>
<circle cx="134.39" cy="410.50" r="1.1" fill="#1010c0"/>
<circle cx="150.96" cy="410.50" r="1.1" fill="#1010c0"/>
<circle cx="167.52" cy="410.50" r="1.1" fill="#1010c0"/>
<polyline points="51.58,457.60 68.14,457.74 84.71,457.88 101.27,458.02 117.83,458.16 134.39,458.30 150.96,458.44 167.52,458.58" fill="none" stroke="#d87272" stroke-width="0.95" stroke-linejoin="round" stroke-linecap="round" />
<circle cx="51.58" cy="457.60" r="0.95" fill="#a03838"/>
<circle cx="68.14" cy="457.74" r="0.95" fill="#a03838"/>
<circle cx="84.71" cy="457.88" r="0.95" fill="#a03838"/>
<circle cx="101.27" cy="458.02" r="0.95" fill="#a03838"/>
<circle cx="117.83" cy="458.16" r="0.95" fill="#a03838"/>
<circle cx="134.39" cy="458.30" r="0.95" fill="#a03838"/>
<circle cx="150.96" cy="458.44" r="0.95" fill="#a03838"/>
<circle cx="167.52" cy="458.58" r="0.95" fill="#a03838"/>
<polyline points="51.58,427.90 68.14,442.90 84.71,447.90 101.27,450.30 117.83,451.90 134.39,452.60 150.96,453.00 167.52,453.20" fill="none" stroke="#111" stroke-width="1.0" stroke-linejoin="round" stroke-linecap="butt" stroke-dasharray="2 1.5"/>
<line x1="103.00" y1="384.80" x2="116.60" y2="384.80" stroke="#1f1fff" stroke-width="1.6" />
<line x1="103.00" y1="390.70" x2="116.60" y2="390.70" stroke="#000" stroke-width="1.8" stroke-dasharray="1.6 1.3"/>
<line x1="103.00" y1="398.40" x2="116.60" y2="398.40" stroke="#e05050" stroke-width="1.1" />
<text x="119.94" y="387.20" style="font-size:6.70px;" fill="#000" textLength="19.45" lengthAdjust="spacingAndGlyphs" >Passive</text>
<text x="119.94" y="393.10" style="font-size:6.70px;" fill="#000" textLength="55.27" lengthAdjust="spacingAndGlyphs" >Both channels present</text>
<text x="121.13" y="400.80" style="font-size:6.70px;" fill="#000" textLength="3.86" lengthAdjust="spacingAndGlyphs" >K</text>
<text x="125.31" y="398.70" style="font-size:4.20px;" fill="#000" textLength="2.12" lengthAdjust="spacingAndGlyphs" >+</text>
<text x="128.61" y="400.80" style="font-size:6.70px;" fill="#000" textLength="10.61" lengthAdjust="spacingAndGlyphs" >only</text>
<text x="28.68" y="384.10" style="font-size:10.74px;" fill="#000" textLength="13.44" lengthAdjust="spacingAndGlyphs" >18</text>
<text x="32.07" y="486.60" style="font-size:10.60px;" fill="#000" textLength="6.15" lengthAdjust="spacingAndGlyphs" >0</text>
<text x="44.72" y="494.00" style="font-size:11.60px;" fill="#000" textLength="14.12" lengthAdjust="spacingAndGlyphs" >32</text>
<text x="159.11" y="494.40" style="font-size:11.32px;" fill="#000" textLength="14.30" lengthAdjust="spacingAndGlyphs" >39</text>
<text x="69.69" y="494.50" style="font-size:9.52px;" fill="#000" textLength="72.09" lengthAdjust="spacingAndGlyphs" >Temperature (°C)</text>
<g transform="translate(39.00,456.50) rotate(-90)">
<text x="-0.66" y="0.00" style="font-size:8.41px;" fill="#000" textLength="65.06" lengthAdjust="spacingAndGlyphs" >Block length (mm)</text>
</g>
<text x="80.99" y="520.30" style="font-size:12.97px;" fill="#000" textLength="54.93" lengthAdjust="spacingAndGlyphs" >HH model</text>
<rect x="257.40" y="379.90" width="132.90" height="104.00" fill="none" stroke="#9a9a9a" stroke-width="0.9"/>
<line x1="269.71" y1="483.90" x2="269.71" y2="482.30" stroke="#9a9a9a" stroke-width="0.7" />
<line x1="269.71" y1="379.90" x2="269.71" y2="381.50" stroke="#9a9a9a" stroke-width="0.7" />
<line x1="294.32" y1="483.90" x2="294.32" y2="482.30" stroke="#9a9a9a" stroke-width="0.7" />
<line x1="294.32" y1="379.90" x2="294.32" y2="381.50" stroke="#9a9a9a" stroke-width="0.7" />
<line x1="318.93" y1="483.90" x2="318.93" y2="482.30" stroke="#9a9a9a" stroke-width="0.7" />
<line x1="318.93" y1="379.90" x2="318.93" y2="381.50" stroke="#9a9a9a" stroke-width="0.7" />
<line x1="343.54" y1="483.90" x2="343.54" y2="482.30" stroke="#9a9a9a" stroke-width="0.7" />
<line x1="343.54" y1="379.90" x2="343.54" y2="381.50" stroke="#9a9a9a" stroke-width="0.7" />
<line x1="368.15" y1="483.90" x2="368.15" y2="482.30" stroke="#9a9a9a" stroke-width="0.7" />
<line x1="368.15" y1="379.90" x2="368.15" y2="381.50" stroke="#9a9a9a" stroke-width="0.7" />
<line x1="257.40" y1="472.34" x2="259.00" y2="472.34" stroke="#9a9a9a" stroke-width="0.7" />
<line x1="390.30" y1="472.34" x2="388.70" y2="472.34" stroke="#9a9a9a" stroke-width="0.7" />
<line x1="257.40" y1="460.79" x2="259.00" y2="460.79" stroke="#9a9a9a" stroke-width="0.7" />
<line x1="390.30" y1="460.79" x2="388.70" y2="460.79" stroke="#9a9a9a" stroke-width="0.7" />
<line x1="257.40" y1="449.23" x2="259.00" y2="449.23" stroke="#9a9a9a" stroke-width="0.7" />
<line x1="390.30" y1="449.23" x2="388.70" y2="449.23" stroke="#9a9a9a" stroke-width="0.7" />
<line x1="257.40" y1="437.68" x2="259.00" y2="437.68" stroke="#9a9a9a" stroke-width="0.7" />
<line x1="390.30" y1="437.68" x2="388.70" y2="437.68" stroke="#9a9a9a" stroke-width="0.7" />
<line x1="257.40" y1="426.12" x2="259.00" y2="426.12" stroke="#9a9a9a" stroke-width="0.7" />
<line x1="390.30" y1="426.12" x2="388.70" y2="426.12" stroke="#9a9a9a" stroke-width="0.7" />
<line x1="257.40" y1="414.57" x2="259.00" y2="414.57" stroke="#9a9a9a" stroke-width="0.7" />
<line x1="390.30" y1="414.57" x2="388.70" y2="414.57" stroke="#9a9a9a" stroke-width="0.7" />
<line x1="257.40" y1="403.01" x2="259.00" y2="403.01" stroke="#9a9a9a" stroke-width="0.7" />
<line x1="390.30" y1="403.01" x2="388.70" y2="403.01" stroke="#9a9a9a" stroke-width="0.7" />
<line x1="257.40" y1="391.46" x2="259.00" y2="391.46" stroke="#9a9a9a" stroke-width="0.7" />
<line x1="390.30" y1="391.46" x2="388.70" y2="391.46" stroke="#9a9a9a" stroke-width="0.7" />
<line x1="380.46" y1="379.90" x2="380.46" y2="483.90" stroke="#777" stroke-width="1.0" stroke-dasharray="2.3 0.8"/>
<polyline points="269.71,405.20 294.32,405.20 318.93,405.20 343.54,405.20 368.15,405.20 380.46,405.20" fill="none" stroke="#1f1fff" stroke-width="1.1" stroke-linejoin="round" stroke-linecap="round" />
<circle cx="269.71" cy="405.20" r="1.1" fill="#1010c0"/>
<circle cx="294.32" cy="405.20" r="1.1" fill="#1010c0"/>
<circle cx="318.93" cy="405.20" r="1.1" fill="#1010c0"/>
<circle cx="343.54" cy="405.20" r="1.1" fill="#1010c0"/>
<circle cx="368.15" cy="405.20" r="1.1" fill="#1010c0"/>
<circle cx="380.46" cy="405.20" r="1.1" fill="#1010c0"/>
<polyline points="269.71,477.80 294.32,478.20 318.93,478.50 343.54,478.70 368.15,478.90 380.46,479.00" fill="none" stroke="#d87272" stroke-width="0.95" stroke-linejoin="round" stroke-linecap="round" />
<circle cx="269.71" cy="477.80" r="0.95" fill="#a03838"/>
<circle cx="294.32" cy="478.20" r="0.95" fill="#a03838"/>
<circle cx="318.93" cy="478.50" r="0.95" fill="#a03838"/>
<circle cx="343.54" cy="478.70" r="0.95" fill="#a03838"/>
<circle cx="368.15" cy="478.90" r="0.95" fill="#a03838"/>
<circle cx="380.46" cy="479.00" r="0.95" fill="#a03838"/>
<polyline points="269.71,476.60 294.32,477.00 318.93,477.40 343.54,477.70 368.15,478.10 380.46,478.20" fill="none" stroke="#111" stroke-width="1.0" stroke-linejoin="round" stroke-linecap="butt" stroke-dasharray="2 1.5"/>
<line x1="300.00" y1="386.00" x2="315.00" y2="386.00" stroke="#1f1fff" stroke-width="1.6" />
<line x1="300.00" y1="391.70" x2="315.00" y2="391.70" stroke="#000" stroke-width="1.8" stroke-dasharray="1.6 1.3"/>
<line x1="300.00" y1="399.30" x2="315.00" y2="399.30" stroke="#e05050" stroke-width="1.1" />
<text x="319.55" y="388.40" style="font-size:6.70px;" fill="#000" textLength="19.10" lengthAdjust="spacingAndGlyphs" >Passive</text>
<text x="319.55" y="394.10" style="font-size:6.70px;" fill="#000" textLength="54.27" lengthAdjust="spacingAndGlyphs" >Both channels present</text>
<text x="320.73" y="401.70" style="font-size:6.70px;" fill="#000" textLength="3.79" lengthAdjust="spacingAndGlyphs" >K</text>
<text x="324.84" y="399.60" style="font-size:4.20px;" fill="#000" textLength="2.08" lengthAdjust="spacingAndGlyphs" >+</text>
<text x="328.08" y="401.70" style="font-size:6.70px;" fill="#000" textLength="10.42" lengthAdjust="spacingAndGlyphs" >only</text>
<text x="243.34" y="384.80" style="font-size:10.74px;" fill="#000" textLength="12.55" lengthAdjust="spacingAndGlyphs" >18</text>
<text x="249.29" y="488.70" style="font-size:10.60px;" fill="#000" textLength="7.31" lengthAdjust="spacingAndGlyphs" >0</text>
<text x="261.98" y="494.90" style="font-size:10.89px;" fill="#000" textLength="13.73" lengthAdjust="spacingAndGlyphs" >25</text>
<text x="358.98" y="494.90" style="font-size:10.89px;" fill="#000" textLength="13.81" lengthAdjust="spacingAndGlyphs" >29</text>
<text x="280.79" y="494.90" style="font-size:9.66px;" fill="#000" textLength="73.60" lengthAdjust="spacingAndGlyphs" >Temperature (°C)</text>
<g transform="translate(253.60,459.80) rotate(-90)">
<text x="-0.66" y="0.00" style="font-size:8.41px;" fill="#000" textLength="65.06" lengthAdjust="spacingAndGlyphs" >Block length (mm)</text>
</g>
<text x="283.18" y="519.80" style="font-size:11.31px;" fill="#000" textLength="65.23" lengthAdjust="spacingAndGlyphs" >mHH model</text>
</svg></body></html>
